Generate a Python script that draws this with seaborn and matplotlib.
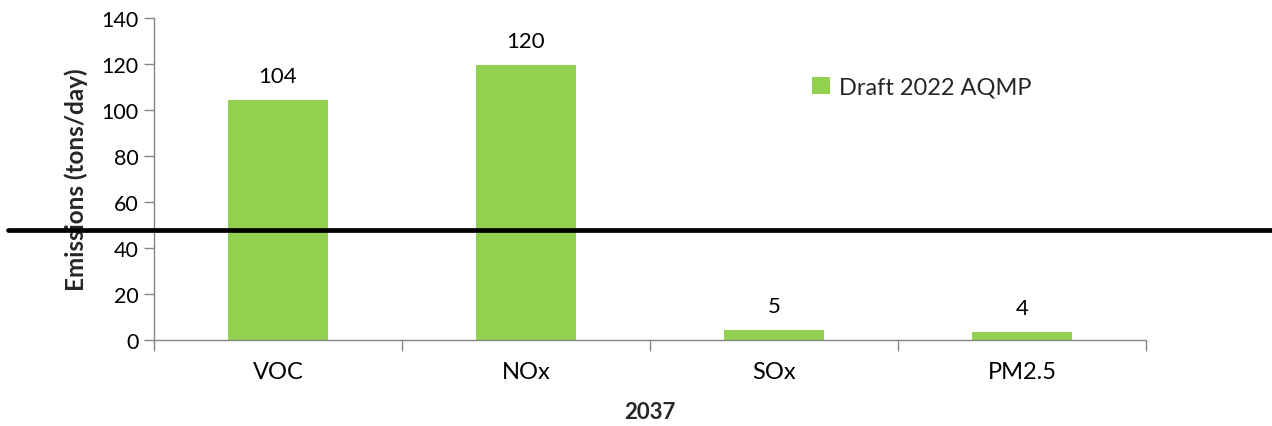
import matplotlib
matplotlib.use("Agg")
import matplotlib.pyplot as plt
import matplotlib.transforms as mtransforms
from matplotlib.lines import Line2D
import seaborn as sns
import pandas as pd

categories = ["VOC", "NOx", "SOx", "PM2.5"]
emissions = [104.3, 119.7, 4.4, 3.4]
value_labels = ["104", "120", "5", "4"]
series_name = "Draft 2022 AQMP"
reference_level = 47.8
x_title = "2037"
y_title = "Emissions (tons/day)"
y_ticks = [0, 20, 40, 60, 80, 100, 120, 140]

sns.set_theme(style="white")
plt.rcParams["font.family"] = ["Lato", "DejaVu Sans"]

df = pd.DataFrame({"pollutant": categories, "emissions": emissions,
                   "series": [series_name] * len(categories)})

fig = plt.figure(figsize=(12.72, 4.27), dpi=100)
ax = fig.add_axes([154 / 1272, 86 / 427, 992 / 1272, 322 / 427])

sns.barplot(data=df, x="pollutant", y="emissions", hue="series",
            palette=["#92D050"], width=0.4, dodge=False, ax=ax,
            saturation=1, edgecolor="none")

ax.bar_label(ax.containers[0], labels=value_labels, padding=10,
             fontsize=16, color="black")

ax.set_ylim(0, 140)
ax.set_xlim(-0.5, len(categories) - 0.5)
ax.set_yticks(y_ticks)
ax.tick_params(axis="y", labelsize=15.5, length=7, width=1, color="#868686",
               direction="out", left=True, pad=4, labelcolor="black")
ax.set_xticks(range(len(categories)))
ax.set_xticklabels(categories)
ax.tick_params(axis="x", which="major", labelsize=17, length=0, pad=15,
               labelcolor="black")
ax.set_xticks([i - 0.5 for i in range(len(categories) + 1)], minor=True)
ax.tick_params(axis="x", which="minor", length=8, width=1, color="#868686",
               direction="out", bottom=True)

for s in ["top", "right"]:
    ax.spines[s].set_visible(False)
for s in ["left", "bottom"]:
    ax.spines[s].set_color("#868686")
    ax.spines[s].set_linewidth(1)

ax.set_xlabel(x_title, fontsize=16, fontweight="bold", labelpad=14)
ax.set_ylabel(y_title, fontsize=17.5, fontweight="bold", labelpad=10)

leg = ax.legend(loc="center left", bbox_to_anchor=(791 / 1272, 1 - 88 / 427),
                bbox_transform=fig.transFigure, frameon=False, fontsize=17,
                handlelength=0.75, handleheight=0.75, handletextpad=0.4,
                title=None)

trans = mtransforms.blended_transform_factory(fig.transFigure, ax.transData)
line = Line2D([8 / 1272, 1.0], [reference_level, reference_level],
              transform=trans, color="black", linewidth=3.4, clip_on=False,
              zorder=10)
fig.add_artist(line)

fig.savefig("out.png", dpi=100)
